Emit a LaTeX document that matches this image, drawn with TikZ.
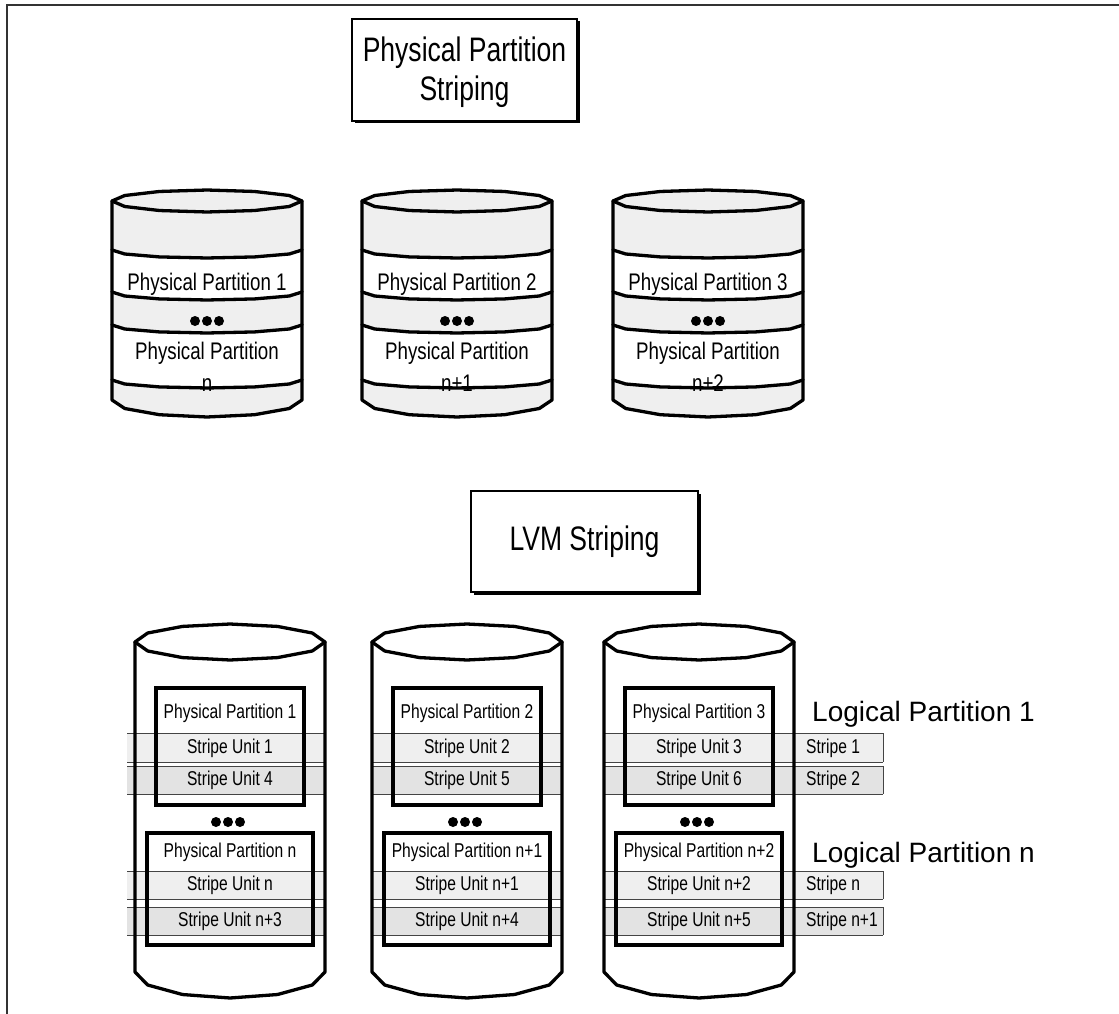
\documentclass[tikz,border=0pt]{standalone}
\usepackage{fontspec}
\setmainfont{Liberation Sans}[FakeStretch=0.78]
\newfontfamily\widefont{Liberation Sans}
\definecolor{diskgrey}{HTML}{EFEFEF}
\definecolor{rowlight}{HTML}{EFEFEF}
\definecolor{rowdark}{HTML}{E3E3E3}
\definecolor{thinline}{HTML}{444444}
\definecolor{framecol}{HTML}{333333}
\tikzset{
  cylline/.style={line width=3.3pt, line join=round, line cap=round},
  ppbox/.style={line width=4pt},
  rowline/.style={line width=0.9pt, draw=thinline},
  titlebox/.style={line width=2.5pt, fill=white},
  bigtext/.style={inner sep=0pt, font=\fontsize{34}{39}\selectfont, align=center},
  ptext/.style={inner sep=0pt, anchor=base, font=\fontsize{24}{28}\selectfont},
  stext/.style={inner sep=0pt, font=\fontsize{20}{24}\selectfont},
  lptext/.style={inner sep=0pt, anchor=base west, font=\widefont\fontsize{28}{32}\selectfont},
}
\begin{document}
\begin{tikzpicture}[x=1pt, y=-1pt]
\useasboundingbox (0,0) rectangle (1119,1014);

% page frame (top and left rules)
\draw[line width=1.6pt, framecol] (7,1014) -- (7,5) -- (1119,5);

% heading boxes with a drop shadow
\fill (354.5,21.5) rectangle (579.5,123.5);
\draw[titlebox] (352,19) rectangle (577,121);
\node[bigtext] (title1) at (464.5,72) {Physical Partition\\Striping};

\fill (473.5,493.5) rectangle (700.5,594.5);
\draw[titlebox] (471,491) rectangle (698,592);
\node[bigtext] (title2) at (584.5,542) {LVM Striping};

% ---------- upper disks: physical partition striping ----------
\foreach \cx/\k/\m in {207/1/n, 457/2/n+1, 708/3/n+2}{
  % grey body
  \fill[diskgrey] (\cx-95,201) -- (\cx-95,400)
    -- plot[domain=180:0, samples=7, variable=\t] ({\cx+95*cos(\t)},{400+17*sin(\t)})
    -- (\cx+95,201)
    -- plot[domain=0:180, samples=7, variable=\t] ({\cx+95*cos(\t)},{201-11*sin(\t)}) -- cycle;
  % white partition bands
  \fill[white] plot[domain=180:0, samples=7, variable=\t] ({\cx+95*cos(\t)},{250+8*sin(\t)})
    -- plot[domain=0:180, samples=7, variable=\t] ({\cx+95*cos(\t)},{292+8*sin(\t)}) -- cycle;
  \fill[white] plot[domain=180:0, samples=7, variable=\t] ({\cx+95*cos(\t)},{325+8*sin(\t)})
    -- plot[domain=0:180, samples=7, variable=\t] ({\cx+95*cos(\t)},{380+8*sin(\t)}) -- cycle;
  % labels
  \node[ptext] (ppa\k) at (\cx,290) {Physical Partition \k};
  \node[ptext] (ppb\k) at (\cx,359) {Physical Partition};
  \node[ptext] (ppc\k) at (\cx,391) {\m};
  \foreach \d in {-12,0,12} \fill (\cx+\d,321) circle (5);
  % band dividers
  \foreach \b in {250,292,325,380}
    \draw[cylline] plot[domain=180:0, samples=7, variable=\t] ({\cx+95*cos(\t)},{\b+8*sin(\t)});
  % lid and outline
  \draw[cylline] plot[domain=0:360, samples=13, variable=\t] ({\cx+95*cos(\t)},{201+11*sin(\t)}) -- cycle;
  \draw[cylline] (\cx-95,201) -- (\cx-95,400)
    -- plot[domain=180:0, samples=7, variable=\t] ({\cx+95*cos(\t)},{400+17*sin(\t)})
    -- (\cx+95,201);
}

% ---------- lower disks: LVM striping ----------
\foreach \cx/\xl/\xr/\ua/\ub/\uc/\ud/\pa/\pb in
  {230/127/325/1/4/n/n+3/1/n, 467/372/562/2/5/n+1/n+4/2/n+1, 699/604/883/3/6/n+2/n+5/3/n+2}{
  % white body
  \fill[white] (\cx-95,642) -- (\cx-95,972)
    -- plot[domain=180:0, samples=7, variable=\t] ({\cx+95*cos(\t)},{972+26*sin(\t)})
    -- (\cx+95,642) -- cycle;
  % stripe rows
  \fill[rowlight] (\xl,733) rectangle (\xr,762);
  \fill[rowdark]  (\xl,766) rectangle (\xr,794);
  \fill[rowlight] (\xl,871) rectangle (\xr,899);
  \fill[rowdark]  (\xl,907) rectangle (\xr,935);
  \foreach \y in {733,762,766,794,871,899,907,935}
    \draw[rowline] (\xl,\y) -- (\xr,\y);
  \node[stext] (su\cx a) at (\cx,748) {Stripe Unit \ua};
  \node[stext] (su\cx b) at (\cx,780.5) {Stripe Unit \ub};
  \node[stext] (su\cx c) at (\cx,885.5) {Stripe Unit \uc};
  \node[stext] (su\cx d) at (\cx,921.5) {Stripe Unit \ud};
  % physical partition frames
  \draw[ppbox] (\cx-74,688) rectangle (\cx+74,805);
  \draw[ppbox] (\cx-83,833) rectangle (\cx+83,945);
  \node[stext] (pp\cx a) at (\cx,713) {Physical Partition \pa};
  \node[stext] (pp\cx b) at (\cx,852) {Physical Partition \pb};
  \foreach \d in {-12,0,12} \fill (\cx+\d-2,822) circle (5);
  % lid and outline
  \draw[cylline] plot[domain=0:360, samples=13, variable=\t] ({\cx+95*cos(\t)},{642+18*sin(\t)}) -- cycle;
  \draw[cylline] (\cx-95,642) -- (\cx-95,972)
    -- plot[domain=180:0, samples=7, variable=\t] ({\cx+95*cos(\t)},{972+26*sin(\t)})
    -- (\cx+95,642);
}

% stripe cells at the right end of the rows
\foreach \ya/\yb in {733/762, 766/794, 871/899, 907/935}
  \draw[rowline] (883,\ya) -- (883,\yb);
\node[stext, anchor=west] (st1) at (806,748) {Stripe 1};
\node[stext, anchor=west] (st2) at (806,780.5) {Stripe 2};
\node[stext, anchor=west] (stn) at (806,885.5) {Stripe n};
\node[stext, anchor=west] (stn1) at (806,921.5) {Stripe n+1};

% logical partition captions
\node[lptext] (lp1) at (812,721) {Logical Partition 1};
\node[lptext] (lpn) at (812,862) {Logical Partition n};
\end{tikzpicture}
\end{document}
